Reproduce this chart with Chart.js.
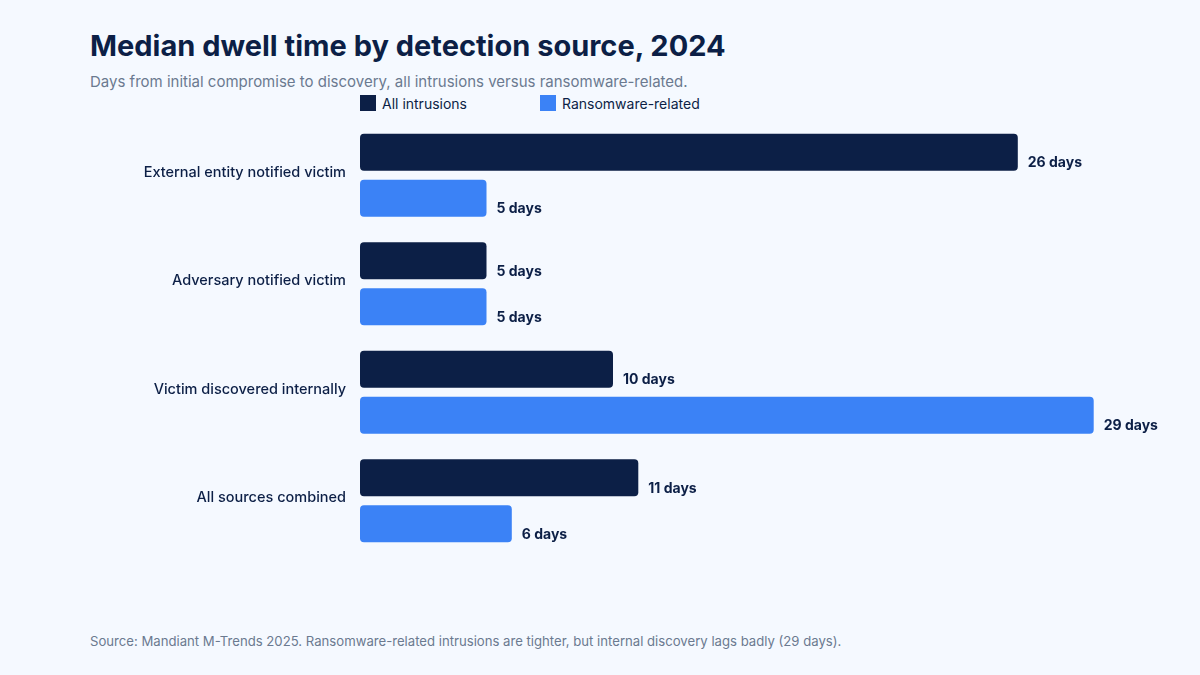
<!DOCTYPE html>
<html><head><meta charset="utf-8">
<script src="https://cdn.jsdelivr.net/npm/chart.js@4"></script>
<style>
html,body{margin:0;padding:0;background:#f5f9ff;width:1200px;height:675px;overflow:hidden;font-family:Inter,"Liberation Sans",Arial,sans-serif;}
#title{position:absolute;left:90px;top:28px;font-size:29px;font-weight:700;color:#0c1f46;}
#sub{position:absolute;left:90px;top:71.5px;font-size:15px;color:#6b7a90;}
#legend{position:absolute;left:360px;top:95px;font-size:14px;color:#0c1f46;}
.li{position:absolute;top:0;white-space:nowrap;line-height:17px;}
.sw{display:inline-block;width:16px;height:16px;vertical-align:top;margin-right:6px;}
#foot{position:absolute;left:90px;top:633px;font-size:13.15px;color:#6b7a90;}
#wrap{position:absolute;left:0;top:115px;width:1200px;height:450px;}
</style></head>
<body>
<div id="title">Median dwell time by detection source, 2024</div>
<div id="sub">Days from initial compromise to discovery, all intrusions versus ransomware-related.</div>
<div id="legend"></div>
<div id="wrap"><canvas id="c" width="1200" height="450"></canvas></div>
<div id="foot">Source: Mandiant M-Trends 2025. Ransomware-related intrusions are tighter, but internal discovery lags badly (29 days).</div>
<script>
const categories = ["External entity notified victim","Adversary notified victim","Victim discovered internally","All sources combined"];
const seriesNames = ["All intrusions","Ransomware-related"];
const allIntrusions = [26,5,10,11];
const ransomware = [5,5,29,6];
const colors = ["#0c1f46","#3b82f6"];
const FONT = 'Inter, "Liberation Sans", Arial, sans-serif';

const lg = document.getElementById('legend');
seriesNames.forEach((n,i)=>{
  const d=document.createElement('div');d.className='li';d.style.left=(i*180)+'px';
  d.innerHTML='<span class="sw" style="background:'+colors[i]+'"></span>'+n;lg.appendChild(d);
});

const valueLabels = {
  id:'valueLabels',
  afterDatasetsDraw(chart){
    const ctx=chart.ctx;ctx.save();
    ctx.font='700 14px '+FONT;
    ctx.fillStyle='#0c1f46';ctx.textBaseline='middle';ctx.textAlign='left';
    chart.data.datasets.forEach((ds,di)=>{
      chart.getDatasetMeta(di).data.forEach((bar,i)=>{
        ctx.fillText(ds.data[i]+' days',bar.x+10,bar.y+11);
      });
    });
    ctx.restore();
  }
};

new Chart(document.getElementById('c'),{
  type:'bar',
  data:{labels:categories,datasets:[
    {label:seriesNames[0],data:allIntrusions,backgroundColor:colors[0],borderRadius:4,borderSkipped:false,categoryPercentage:0.848,barPercentage:0.804},
    {label:seriesNames[1],data:ransomware,backgroundColor:colors[1],borderRadius:4,borderSkipped:false,categoryPercentage:0.848,barPercentage:0.804}
  ]},
  options:{
    indexAxis:'y',responsive:false,animation:false,
    layout:{padding:{top:6,bottom:10,right:81,left:0}},
    plugins:{legend:{display:false},tooltip:{enabled:false}},
    scales:{
      x:{display:false,min:0,max:30},
      y:{grid:{display:false,drawTicks:false},border:{display:false},
         afterFit(s){s.width=360;s.paddingTop=0;s.paddingBottom=0;},
         ticks:{padding:14,labelOffset:-3,color:'#0c1f46',font:{family:FONT,size:14.5,weight:'500'}}}
    }
  },
  plugins:[valueLabels]
});
</script>
</body></html>
